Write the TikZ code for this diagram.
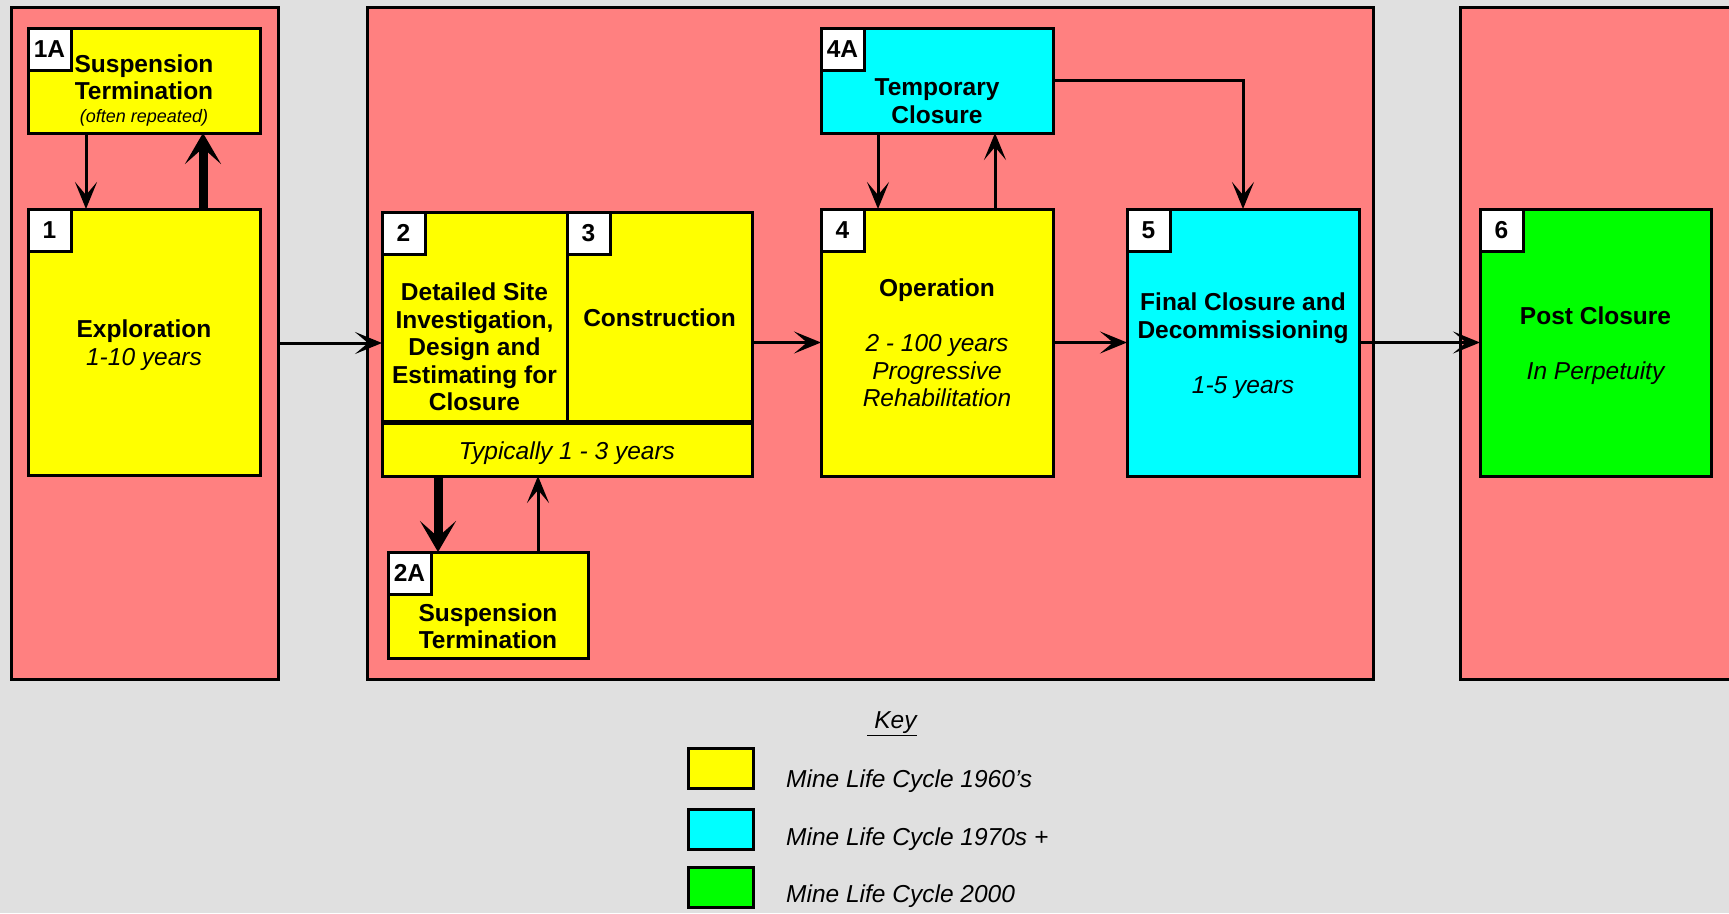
\documentclass[tikz,border=0pt]{standalone}
\usepackage{fontspec}
\setmainfont{Liberation Sans}
\usetikzlibrary{arrows.meta}
\definecolor{bggray}{HTML}{E0E0E0}
\definecolor{panelpink}{HTML}{FF8080}
\definecolor{stageyellow}{HTML}{FFFF00}
\definecolor{stagecyan}{HTML}{00FFFF}
\definecolor{stagegreen}{HTML}{00FF00}
\newcommand{\yrs}{\mdseries\itshape}
\begin{document}
\begin{tikzpicture}[x=1pt,y=-1pt,
  panel/.style={draw, fill=panelpink, line width=3pt, inner sep=0pt, outer sep=0pt},
  stagebox/.style={draw, line width=3pt, inner sep=0pt, outer sep=0pt},
  tag/.style={draw, fill=white, line width=3pt, inner sep=0pt, outer sep=0pt,
    minimum width=43pt, minimum height=42pt, anchor=north west,
    font=\fontsize{24.5}{27.5}\selectfont\bfseries},
  title/.style={align=center, inner sep=0pt, font=\fontsize{24.5}{27.5}\selectfont\bfseries},
  span/.style={align=center, inner sep=0pt, font=\fontsize{24.5}{27.5}\selectfont\itshape},
  note/.style={inner sep=0pt, font=\fontsize{18}{20}\selectfont\itshape},
  swatch/.style={draw, line width=3pt, inner sep=0pt, outer sep=0pt,
    minimum width=65pt, minimum height=40pt},
  flow/.style={line width=3pt, -{Stealth[length=27pt,width=22pt,inset=13pt]}},
  heavy/.style={line width=9pt, -{Stealth[length=31pt,width=36pt,inset=16pt]}}
]
\useasboundingbox (0,0) rectangle (1729,913);
\fill[bggray] (0,0) rectangle (1729,913);
\clip (0,0) rectangle (1729,913);

% phase panels
\node[panel, minimum width=267pt, minimum height=672pt] (P1) at (144.5,343) {};
\node[panel, minimum width=1006pt, minimum height=672pt] (P2) at (870,343) {};
\node[panel, minimum width=300pt, minimum height=672pt] (P3) at (1610,343) {};

% stage boxes
\node[stagebox, fill=stageyellow, minimum width=232pt, minimum height=105pt] (B1A) at (144,80.5) {};
\node[stagebox, fill=stageyellow, minimum width=232pt, minimum height=266pt] (B1) at (144,342) {};
\node[stagebox, fill=stageyellow, minimum width=370pt, minimum height=53pt] (BT) at (567,449.5) {};
\node[stagebox, fill=stageyellow, minimum width=185pt, minimum height=209pt] (B2) at (474.5,316.5) {};
\node[stagebox, fill=stageyellow, minimum width=185pt, minimum height=209pt] (B3) at (659.5,316.5) {};
\node[stagebox, fill=stageyellow, minimum width=200pt, minimum height=106pt] (B2A) at (488,605) {};
\node[stagebox, fill=stagecyan, minimum width=232pt, minimum height=105pt] (B4A) at (937,80.5) {};
\node[stagebox, fill=stageyellow, minimum width=232pt, minimum height=267pt] (B4) at (937,342.5) {};
\node[stagebox, fill=stagecyan, minimum width=232pt, minimum height=267pt] (B5) at (1243,342.5) {};
\node[stagebox, fill=stagegreen, minimum width=231pt, minimum height=267pt] (B6) at (1595.5,342.5) {};

% number tags
\node[tag] (L1A) at (B1A.north west) {1A};
\node[tag] (L1) at (B1.north west) {1};
\node[tag] (L2) at (B2.north west) {2};
\node[tag] (L3) at (B3.north west) {3};
\node[tag] (L2A) at (B2A.north west) {2A};
\node[tag] (L4A) at (B4A.north west) {4A};
\node[tag] (L4) at (B4.north west) {4};
\node[tag] (L5) at (B5.north west) {5};
\node[tag] (L6) at (B6.north west) {6};

% stage texts
\node[title] (T1A) at (144,77) {Suspension\\Termination};
\node[note] (N1A) at (144,118) {(often repeated)};
\node[title] (T1) at (144,345) {Exploration\\\yrs 1-10 years};
\node[title] (T2) at (474.5,347) {Detailed Site\\Investigation,\\Design and\\Estimating for\\Closure};
\node[title] (T3) at (659.5,318) {Construction};
\node[span] (TT) at (567,453) {Typically 1 - 3 years};
\node[title] (T2A) at (488,626) {Suspension\\Termination};
\node[title] (T4A) at (937,101) {Temporary\\Closure};
\node[title] (T4) at (937,343) {Operation\\[27.5pt]\yrs 2 - 100 years\\\yrs Progressive\\\yrs Rehabilitation};
\node[title] (T5) at (1243,345.5) {Final Closure and\\Decommissioning\\[27.5pt]\yrs 1-5 years};
\node[title] (T6) at (1595.5,346) {Post Closure\\[27.5pt]\yrs In Perpetuity};

% connector positions
\coordinate (xa) at (86,0);
\coordinate (xb) at (203,0);
\coordinate (xc) at (438,0);
\coordinate (xd) at (538,0);
\coordinate (xe) at (878,0);
\coordinate (xf) at (995,0);

% connectors
\draw[flow] (B1A.south -| xa) -- (B1.north -| xa);
\draw[heavy] (B1.north -| xb) -- (B1A.south -| xb);
\draw[heavy] (BT.south -| xc) -- (B2A.north -| xc);
\draw[flow] (B2A.north -| xd) -- (BT.south -| xd);
\draw[flow] (B4A.south -| xe) -- (B4.north -| xe);
\draw[flow] (B4.north -| xf) -- (B4A.south -| xf);
\draw[flow] (B4A.east) -| (B5.north);
\draw[flow] (P1.east) -- (P1.east -| B2.west);
\draw[flow] (B3.east |- B4.west) -- (B4.west);
\draw[flow] (B4.east) -- (B5.west);
\draw[flow] (B5.east) -- (B6.west);

% key
\node[span] (KT) at (892,724) {\underline{\ Key}};
\node[swatch, fill=stageyellow] (S1) at (720.5,768) {};
\node[swatch, fill=stagecyan] (S2) at (720.5,829.5) {};
\node[swatch, fill=stagegreen] (S3) at (720.5,887) {};
\node[span, anchor=west] (K1) at (786,781) {Mine Life Cycle 1960's};
\node[span, anchor=west] (K2) at (786,839) {Mine Life Cycle 1970s +};
\node[span, anchor=west] (K3) at (786,896) {Mine Life Cycle 2000};
\end{tikzpicture}
\end{document}
